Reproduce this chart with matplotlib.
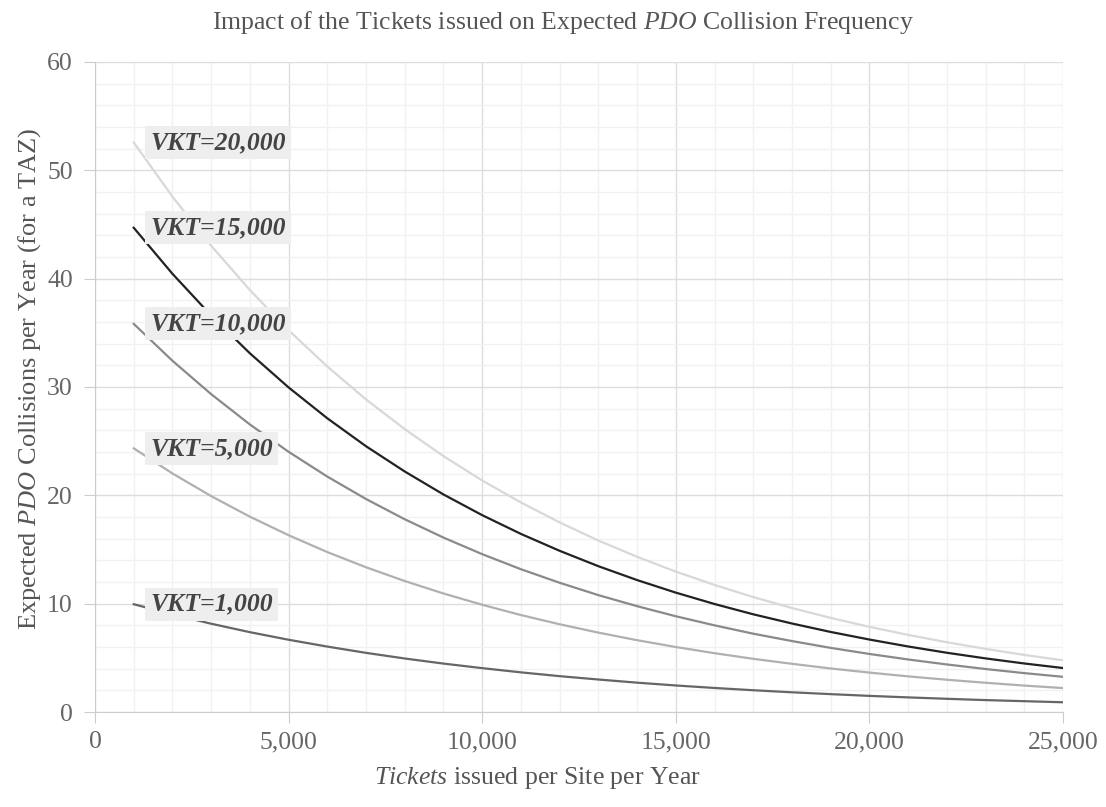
import matplotlib
matplotlib.use("Agg")
from matplotlib import pyplot as plt
from matplotlib.ticker import MultipleLocator, FuncFormatter

plt.rcParams['font.family'] = ['Liberation Serif', 'DejaVu Serif']
plt.rcParams['mathtext.fontset'] = 'custom'
plt.rcParams['mathtext.rm'] = 'Liberation Serif'
plt.rcParams['mathtext.it'] = 'Liberation Serif:italic'

# tickets issued per site per year
tickets = [1000, 2000, 3000, 4000, 5000, 6000, 7000, 8000, 9000, 10000,
           11000, 12000, 13000, 14000, 15000, 16000, 17000, 18000, 19000, 20000,
           21000, 22000, 23000, 24000, 25000]

# expected PDO collisions per year for each VKT level
vkt_1000 = [9.95, 9.01, 8.15, 7.37, 6.67, 6.04, 5.46, 4.94, 4.47, 4.05,
            3.66, 3.31, 3.00, 2.71, 2.45, 2.22, 2.01, 1.82, 1.65, 1.49,
            1.35, 1.22, 1.10, 1.00, 0.90]
vkt_5000 = [24.34, 22.02, 19.93, 18.03, 16.32, 14.76, 13.36, 12.09, 10.94, 9.90,
            8.95, 8.10, 7.33, 6.63, 6.00, 5.43, 4.91, 4.45, 4.02, 3.64,
            3.29, 2.98, 2.70, 2.44, 2.21]
vkt_10000 = [35.83, 32.42, 29.34, 26.54, 24.02, 21.73, 19.66, 17.79, 16.10, 14.57,
             13.18, 11.93, 10.79, 9.77, 8.84, 8.00, 7.23, 6.55, 5.92, 5.36,
             4.85, 4.39, 3.97, 3.59, 3.25]
vkt_15000 = [44.70, 40.45, 36.60, 33.11, 29.96, 27.11, 24.53, 22.20, 20.08, 18.17,
             16.44, 14.88, 13.46, 12.18, 11.02, 9.97, 9.02, 8.17, 7.39, 6.69,
             6.05, 5.47, 4.95, 4.48, 4.06]
vkt_20000 = [52.57, 47.57, 43.04, 38.95, 35.24, 31.89, 28.85, 26.11, 23.62, 21.37,
             19.34, 17.50, 15.83, 14.33, 12.96, 11.73, 10.61, 9.60, 8.69, 7.86,
             7.12, 6.44, 5.83, 5.27, 4.77]

series_labels = ['VKT=1,000', 'VKT=5,000', 'VKT=10,000', 'VKT=15,000', 'VKT=20,000']
series_values = [vkt_1000, vkt_5000, vkt_10000, vkt_15000, vkt_20000]
series_colors = ['#666666', '#b0b0b0', '#8a8a8a', '#222222', '#d8d8d8']

fig = plt.figure(figsize=(11.06, 8.07), dpi=100)
ax = fig.add_axes([0.0859, 0.1177, 0.8752, 0.8055])

for label, vals, col in zip(series_labels, series_values, series_colors):
    ax.plot(tickets, vals, color=col, lw=1.6, zorder=3)
    ax.annotate(label, xy=(tickets[0], vals[0]), xytext=(12, 0),
                textcoords='offset points', va='center', ha='left',
                fontsize=18.5, fontweight='bold', fontstyle='italic',
                color='#444444', zorder=4,
                bbox=dict(boxstyle='square,pad=0.2', fc='#eeeeee', ec='none'))

ax.set_xlim(0, 25000)
ax.set_ylim(0, 60)
ax.xaxis.set_major_locator(MultipleLocator(5000))
ax.xaxis.set_minor_locator(MultipleLocator(1000))
ax.yaxis.set_major_locator(MultipleLocator(10))
ax.yaxis.set_minor_locator(MultipleLocator(2))
ax.xaxis.set_major_formatter(FuncFormatter(lambda v, p: f'{int(v):,}'))

ax.grid(which='major', color='#dddddd', lw=1.0, zorder=0)
ax.grid(which='minor', color='#f1f1f1', lw=1.0, zorder=0)
ax.set_axisbelow(True)

for side in ['top', 'right']:
    ax.spines[side].set_visible(False)
for side in ['left', 'bottom']:
    ax.spines[side].set_color('#cccccc')

ax.tick_params(which='major', length=8, color='#cccccc', labelsize=18.5,
               labelcolor='#666666', pad=6)
ax.tick_params(axis='y', which='major', pad=8)
ax.tick_params(which='minor', length=0)

fig.text(0.509, 0.972, r'Impact of the Tickets issued on Expected $\mathit{PDO}$ Collision Frequency',
         ha='center', va='center', fontsize=18.5, color='#555555')
ax.set_ylabel(r'Expected $\mathit{PDO}$ Collisions per Year (for a TAZ)',
              fontsize=19, color='#555555')
ax.yaxis.set_label_coords(-0.054, 0.512)
ax.set_xlabel(r'$\mathit{Tickets}$ issued per Site per Year',
              fontsize=18.5, color='#555555')
ax.xaxis.set_label_coords(0.457, -0.082)

fig.savefig('out.png', dpi=100)
